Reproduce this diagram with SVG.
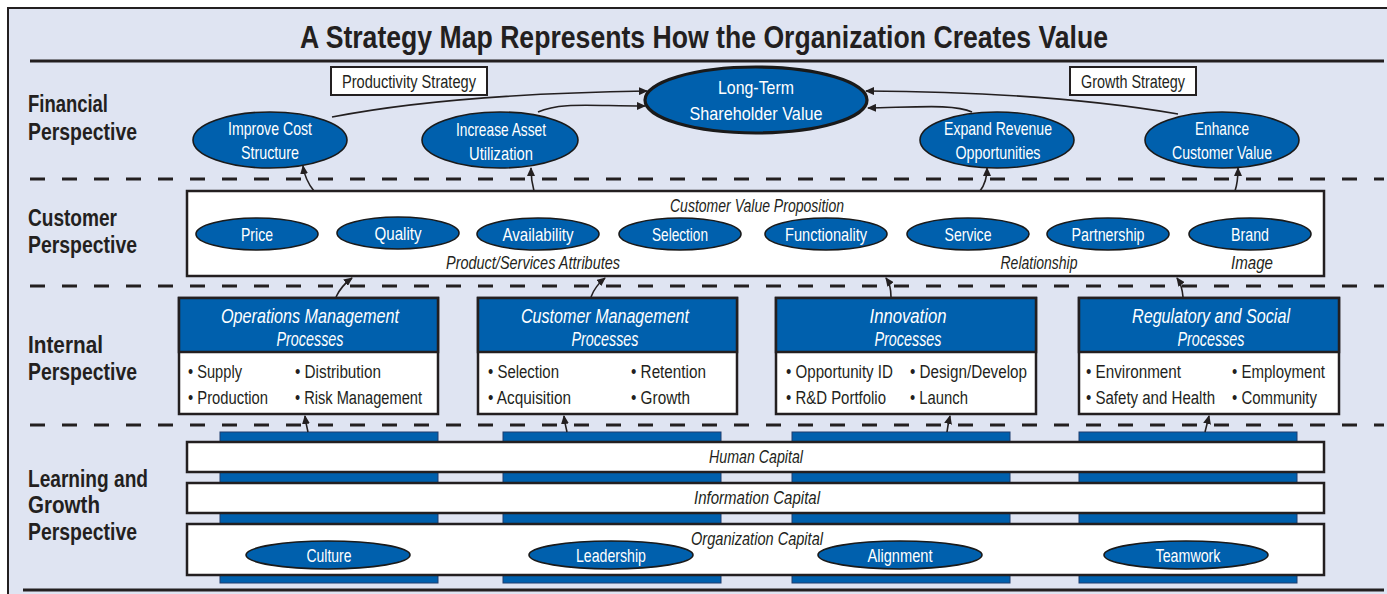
<svg xmlns="http://www.w3.org/2000/svg" width="1387" height="594" viewBox="0 0 1387 594">
<style>
text{font-family:"Liberation Sans",Arial,sans-serif;fill:#231f20}
.lbl{font-weight:bold;font-size:23px}
.ttl{font-weight:bold;font-size:31px}
.ell{fill:#0060ad;stroke:#1a1a1a;stroke-width:1.6}
.et{fill:#fff;font-size:19px;text-anchor:middle}
.box{fill:#fff;stroke:#231f20;stroke-width:2.5}
.it{font-style:italic;font-size:18px;text-anchor:middle}
.hdr{fill:#0060ad;stroke:#231f20;stroke-width:2.5}
.ht{fill:#fff;font-style:italic;font-size:21px;text-anchor:middle}
.bt{font-size:18px}
.st{font-size:18px;text-anchor:middle}
.dash{stroke:#231f20;stroke-width:3;stroke-dasharray:15 17;fill:none}
.rule{stroke:#231f20;stroke-width:3;fill:none}
.conn{stroke:#231f20;stroke-width:1.6;fill:none;marker-end:url(#ah)}
.bar{fill:#0060ad;stroke:#1f3d6e;stroke-width:1}
</style>
<defs>
<marker id="ah" markerUnits="userSpaceOnUse" markerWidth="9" markerHeight="8" refX="8" refY="4" orient="auto">
<path d="M0,0 L9,4 L0,8 z" fill="#231f20"/>
</marker>
</defs>
<rect x="0" y="0" width="1387" height="594" fill="#fff"/>
<rect x="8" y="8" width="1379" height="586" fill="#dfe4f2"/>
<path d="M8,594 V8 H1387" stroke="#231f20" stroke-width="2" fill="none"/>

<g id="title">
<text class="ttl" x="300" y="48" textLength="808" lengthAdjust="spacingAndGlyphs">A Strategy Map Represents How the Organization Creates Value</text>
</g>
<g id="rules">
<line class="rule" x1="30" y1="61" x2="1384" y2="61"/>
<line class="dash" x1="30" y1="179" x2="1384" y2="179"/>
<line class="dash" x1="30" y1="286" x2="1384" y2="286"/>
<line class="dash" x1="30" y1="425" x2="1384" y2="425"/>
<line class="rule" x1="23" y1="590" x2="1384" y2="590"/>
</g>

<g id="perspective-labels">
<text class="lbl" x="28" y="112" textLength="80" lengthAdjust="spacingAndGlyphs">Financial</text>
<text class="lbl" x="28" y="140" textLength="109" lengthAdjust="spacingAndGlyphs">Perspective</text>
<text class="lbl" x="28" y="226" textLength="89" lengthAdjust="spacingAndGlyphs">Customer</text>
<text class="lbl" x="28" y="253" textLength="109" lengthAdjust="spacingAndGlyphs">Perspective</text>
<text class="lbl" x="28" y="353" textLength="75" lengthAdjust="spacingAndGlyphs">Internal</text>
<text class="lbl" x="28" y="380" textLength="109" lengthAdjust="spacingAndGlyphs">Perspective</text>
<text class="lbl" x="28" y="487" textLength="120" lengthAdjust="spacingAndGlyphs">Learning and</text>
<text class="lbl" x="28" y="513" textLength="72" lengthAdjust="spacingAndGlyphs">Growth</text>
<text class="lbl" x="28" y="540" textLength="109" lengthAdjust="spacingAndGlyphs">Perspective</text>
</g>

<g id="productivity-strategy">
<rect x="331" y="67" width="156" height="28" fill="#fff" stroke="#231f20" stroke-width="2"/>
<text class="st" x="409" y="88" textLength="134" lengthAdjust="spacingAndGlyphs">Productivity Strategy</text>
</g>
<g id="growth-strategy">
<rect x="1070" y="67" width="126" height="28" fill="#fff" stroke="#231f20" stroke-width="2"/>
<text class="st" x="1133" y="88" textLength="104" lengthAdjust="spacingAndGlyphs">Growth Strategy</text>
</g>

<g id="long-term-shareholder-value">
<ellipse cx="756" cy="100" rx="111" ry="33" fill="#0060ad" stroke="#1a1a1a" stroke-width="3.2"/>
<text class="et" x="756" y="94" font-size="21" textLength="76" lengthAdjust="spacingAndGlyphs">Long-Term</text>
<text class="et" x="756" y="120" font-size="21" textLength="133" lengthAdjust="spacingAndGlyphs">Shareholder Value</text>
</g>
<g id="improve-cost-structure">
<ellipse class="ell" cx="270" cy="140" rx="77" ry="28"/>
<text class="et" x="270" y="135" textLength="84" lengthAdjust="spacingAndGlyphs">Improve Cost</text>
<text class="et" x="270" y="159" textLength="58" lengthAdjust="spacingAndGlyphs">Structure</text>
</g>
<g id="increase-asset-utilization">
<ellipse class="ell" cx="500" cy="140" rx="78" ry="28"/>
<text class="et" x="501" y="136" textLength="90" lengthAdjust="spacingAndGlyphs">Increase Asset</text>
<text class="et" x="501" y="160" textLength="64" lengthAdjust="spacingAndGlyphs">Utilization</text>
</g>
<g id="expand-revenue-opportunities">
<ellipse class="ell" cx="997" cy="140" rx="77" ry="28"/>
<text class="et" x="998" y="135" textLength="108" lengthAdjust="spacingAndGlyphs">Expand Revenue</text>
<text class="et" x="998" y="159" textLength="85" lengthAdjust="spacingAndGlyphs">Opportunities</text>
</g>
<g id="enhance-customer-value">
<ellipse class="ell" cx="1222" cy="140" rx="77" ry="28"/>
<text class="et" x="1222" y="135" textLength="54" lengthAdjust="spacingAndGlyphs">Enhance</text>
<text class="et" x="1222" y="159" textLength="100" lengthAdjust="spacingAndGlyphs">Customer Value</text>
</g>

<g id="customer-value-proposition">
<rect class="box" x="187" y="191" width="1137" height="85"/>
<text class="it" x="757" y="212" textLength="174" lengthAdjust="spacingAndGlyphs">Customer Value Proposition</text>
<text class="it" x="533" y="269" textLength="174" lengthAdjust="spacingAndGlyphs">Product/Services Attributes</text>
<text class="it" x="1039" y="269" textLength="77" lengthAdjust="spacingAndGlyphs">Relationship</text>
<text class="it" x="1252" y="269" textLength="42" lengthAdjust="spacingAndGlyphs">Image</text>
</g>
<g id="price"><ellipse class="ell" cx="257" cy="234" rx="61" ry="16"/><text class="et" x="257" y="241" textLength="32" lengthAdjust="spacingAndGlyphs">Price</text></g>
<g id="quality"><ellipse class="ell" cx="398" cy="233" rx="61" ry="16"/><text class="et" x="398" y="240" textLength="47" lengthAdjust="spacingAndGlyphs">Quality</text></g>
<g id="availability"><ellipse class="ell" cx="538" cy="234" rx="61" ry="16"/><text class="et" x="538" y="241" textLength="71" lengthAdjust="spacingAndGlyphs">Availability</text></g>
<g id="selection"><ellipse class="ell" cx="680" cy="234" rx="61" ry="16"/><text class="et" x="680" y="241" textLength="56" lengthAdjust="spacingAndGlyphs">Selection</text></g>
<g id="functionality"><ellipse class="ell" cx="826" cy="234" rx="61" ry="16"/><text class="et" x="826" y="241" textLength="82" lengthAdjust="spacingAndGlyphs">Functionality</text></g>
<g id="service"><ellipse class="ell" cx="968" cy="234" rx="61" ry="16"/><text class="et" x="968" y="241" textLength="47" lengthAdjust="spacingAndGlyphs">Service</text></g>
<g id="partnership"><ellipse class="ell" cx="1108" cy="234" rx="61" ry="16"/><text class="et" x="1108" y="241" textLength="73" lengthAdjust="spacingAndGlyphs">Partnership</text></g>
<g id="brand"><ellipse class="ell" cx="1250" cy="234" rx="61" ry="16"/><text class="et" x="1250" y="241" textLength="38" lengthAdjust="spacingAndGlyphs">Brand</text></g>

<g id="operations-management">
<rect class="box" x="179" y="298" width="259" height="116"/>
<rect class="hdr" x="179" y="298" width="259" height="54"/>
<text class="ht" x="310" y="323" textLength="178" lengthAdjust="spacingAndGlyphs">Operations Management</text>
<text class="ht" x="310" y="346" textLength="67" lengthAdjust="spacingAndGlyphs">Processes</text>
<text class="bt" x="188" y="378" textLength="54" lengthAdjust="spacingAndGlyphs">• Supply</text>
<text class="bt" x="188" y="404" textLength="80" lengthAdjust="spacingAndGlyphs">• Production</text>
<text class="bt" x="295" y="378" textLength="86" lengthAdjust="spacingAndGlyphs">• Distribution</text>
<text class="bt" x="295" y="404" textLength="127" lengthAdjust="spacingAndGlyphs">• Risk Management</text>
</g>
<g id="customer-management">
<rect class="box" x="478" y="298" width="259" height="116"/>
<rect class="hdr" x="478" y="298" width="259" height="54"/>
<text class="ht" x="605" y="323" textLength="168" lengthAdjust="spacingAndGlyphs">Customer Management</text>
<text class="ht" x="605" y="346" textLength="67" lengthAdjust="spacingAndGlyphs">Processes</text>
<text class="bt" x="488" y="378" textLength="71" lengthAdjust="spacingAndGlyphs">• Selection</text>
<text class="bt" x="488" y="404" textLength="83" lengthAdjust="spacingAndGlyphs">• Acquisition</text>
<text class="bt" x="631" y="378" textLength="75" lengthAdjust="spacingAndGlyphs">• Retention</text>
<text class="bt" x="631" y="404" textLength="59" lengthAdjust="spacingAndGlyphs">• Growth</text>
</g>
<g id="innovation">
<rect class="box" x="776" y="298" width="260" height="116"/>
<rect class="hdr" x="776" y="298" width="260" height="54"/>
<text class="ht" x="908" y="323" textLength="77" lengthAdjust="spacingAndGlyphs">Innovation</text>
<text class="ht" x="908" y="346" textLength="67" lengthAdjust="spacingAndGlyphs">Processes</text>
<text class="bt" x="786" y="378" textLength="107" lengthAdjust="spacingAndGlyphs">• Opportunity ID</text>
<text class="bt" x="786" y="404" textLength="100" lengthAdjust="spacingAndGlyphs">• R&amp;D Portfolio</text>
<text class="bt" x="910" y="378" textLength="117" lengthAdjust="spacingAndGlyphs">• Design/Develop</text>
<text class="bt" x="910" y="404" textLength="58" lengthAdjust="spacingAndGlyphs">• Launch</text>
</g>
<g id="regulatory-social">
<rect class="box" x="1079" y="298" width="260" height="116"/>
<rect class="hdr" x="1079" y="298" width="260" height="54"/>
<text class="ht" x="1211" y="323" textLength="158" lengthAdjust="spacingAndGlyphs">Regulatory and Social</text>
<text class="ht" x="1211" y="346" textLength="67" lengthAdjust="spacingAndGlyphs">Processes</text>
<text class="bt" x="1086" y="378" textLength="95" lengthAdjust="spacingAndGlyphs">• Environment</text>
<text class="bt" x="1086" y="404" textLength="129" lengthAdjust="spacingAndGlyphs">• Safety and Health</text>
<text class="bt" x="1232" y="378" textLength="93" lengthAdjust="spacingAndGlyphs">• Employment</text>
<text class="bt" x="1232" y="404" textLength="85" lengthAdjust="spacingAndGlyphs">• Community</text>
</g>

<g id="learning-bars">
<rect class="bar" x="220" y="432" width="218" height="151"/>
<rect class="bar" x="503" y="432" width="218" height="151"/>
<rect class="bar" x="792" y="432" width="218" height="151"/>
<rect class="bar" x="1079" y="432" width="218" height="151"/>
</g>
<g id="human-capital">
<rect class="box" x="187" y="442" width="1137" height="30"/>
<text class="it" x="756" y="463" textLength="94" lengthAdjust="spacingAndGlyphs">Human Capital</text>
</g>
<g id="information-capital">
<rect class="box" x="187" y="483" width="1137" height="30"/>
<text class="it" x="757" y="504" textLength="126" lengthAdjust="spacingAndGlyphs">Information Capital</text>
</g>
<g id="organization-capital">
<rect class="box" x="187" y="524" width="1137" height="51"/>
<text class="it" x="757" y="545" textLength="132" lengthAdjust="spacingAndGlyphs">Organization Capital</text>
</g>
<g id="culture"><ellipse class="ell" cx="328" cy="555" rx="82" ry="14"/><text class="et" x="329" y="562" textLength="45" lengthAdjust="spacingAndGlyphs">Culture</text></g>
<g id="leadership"><ellipse class="ell" cx="611" cy="555" rx="82" ry="14"/><text class="et" x="611" y="562" textLength="70" lengthAdjust="spacingAndGlyphs">Leadership</text></g>
<g id="alignment"><ellipse class="ell" cx="900" cy="555" rx="82" ry="14"/><text class="et" x="900" y="562" textLength="65" lengthAdjust="spacingAndGlyphs">Alignment</text></g>
<g id="teamwork"><ellipse class="ell" cx="1186" cy="555" rx="82" ry="14"/><text class="et" x="1188" y="562" textLength="65" lengthAdjust="spacingAndGlyphs">Teamwork</text></g>

<g id="connectors">
<path class="conn" d="M332,117 Q450,94 647,91"/>
<path class="conn" d="M538,112 C560,102 590,106 645,106"/>
<path class="conn" d="M972,112 C955,104 920,107 868,108"/>
<path class="conn" d="M1178,114 Q1050,92 866,91"/>
<path class="conn" d="M314,191 Q305,180 303,166"/>
<path class="conn" d="M534,191 Q531,180 531,168"/>
<path class="conn" d="M980,191 Q987,182 987,168"/>
<path class="conn" d="M1235,191 Q1238,182 1238,168"/>
<path class="conn" d="M336,297 Q341,286 352,278"/>
<path class="conn" d="M591,297 Q595,286 605,278"/>
<path class="conn" d="M891,297 Q891,285 886,278"/>
<path class="conn" d="M1183,297 Q1182,285 1177,278"/>
<path class="conn" d="M308,432 Q306,424 305,416"/>
<path class="conn" d="M567,432 Q565,424 564,416"/>
<path class="conn" d="M947,432 Q948,424 950,416"/>
<path class="conn" d="M1205,432 Q1207,424 1209,416"/>
</g>
</svg>
